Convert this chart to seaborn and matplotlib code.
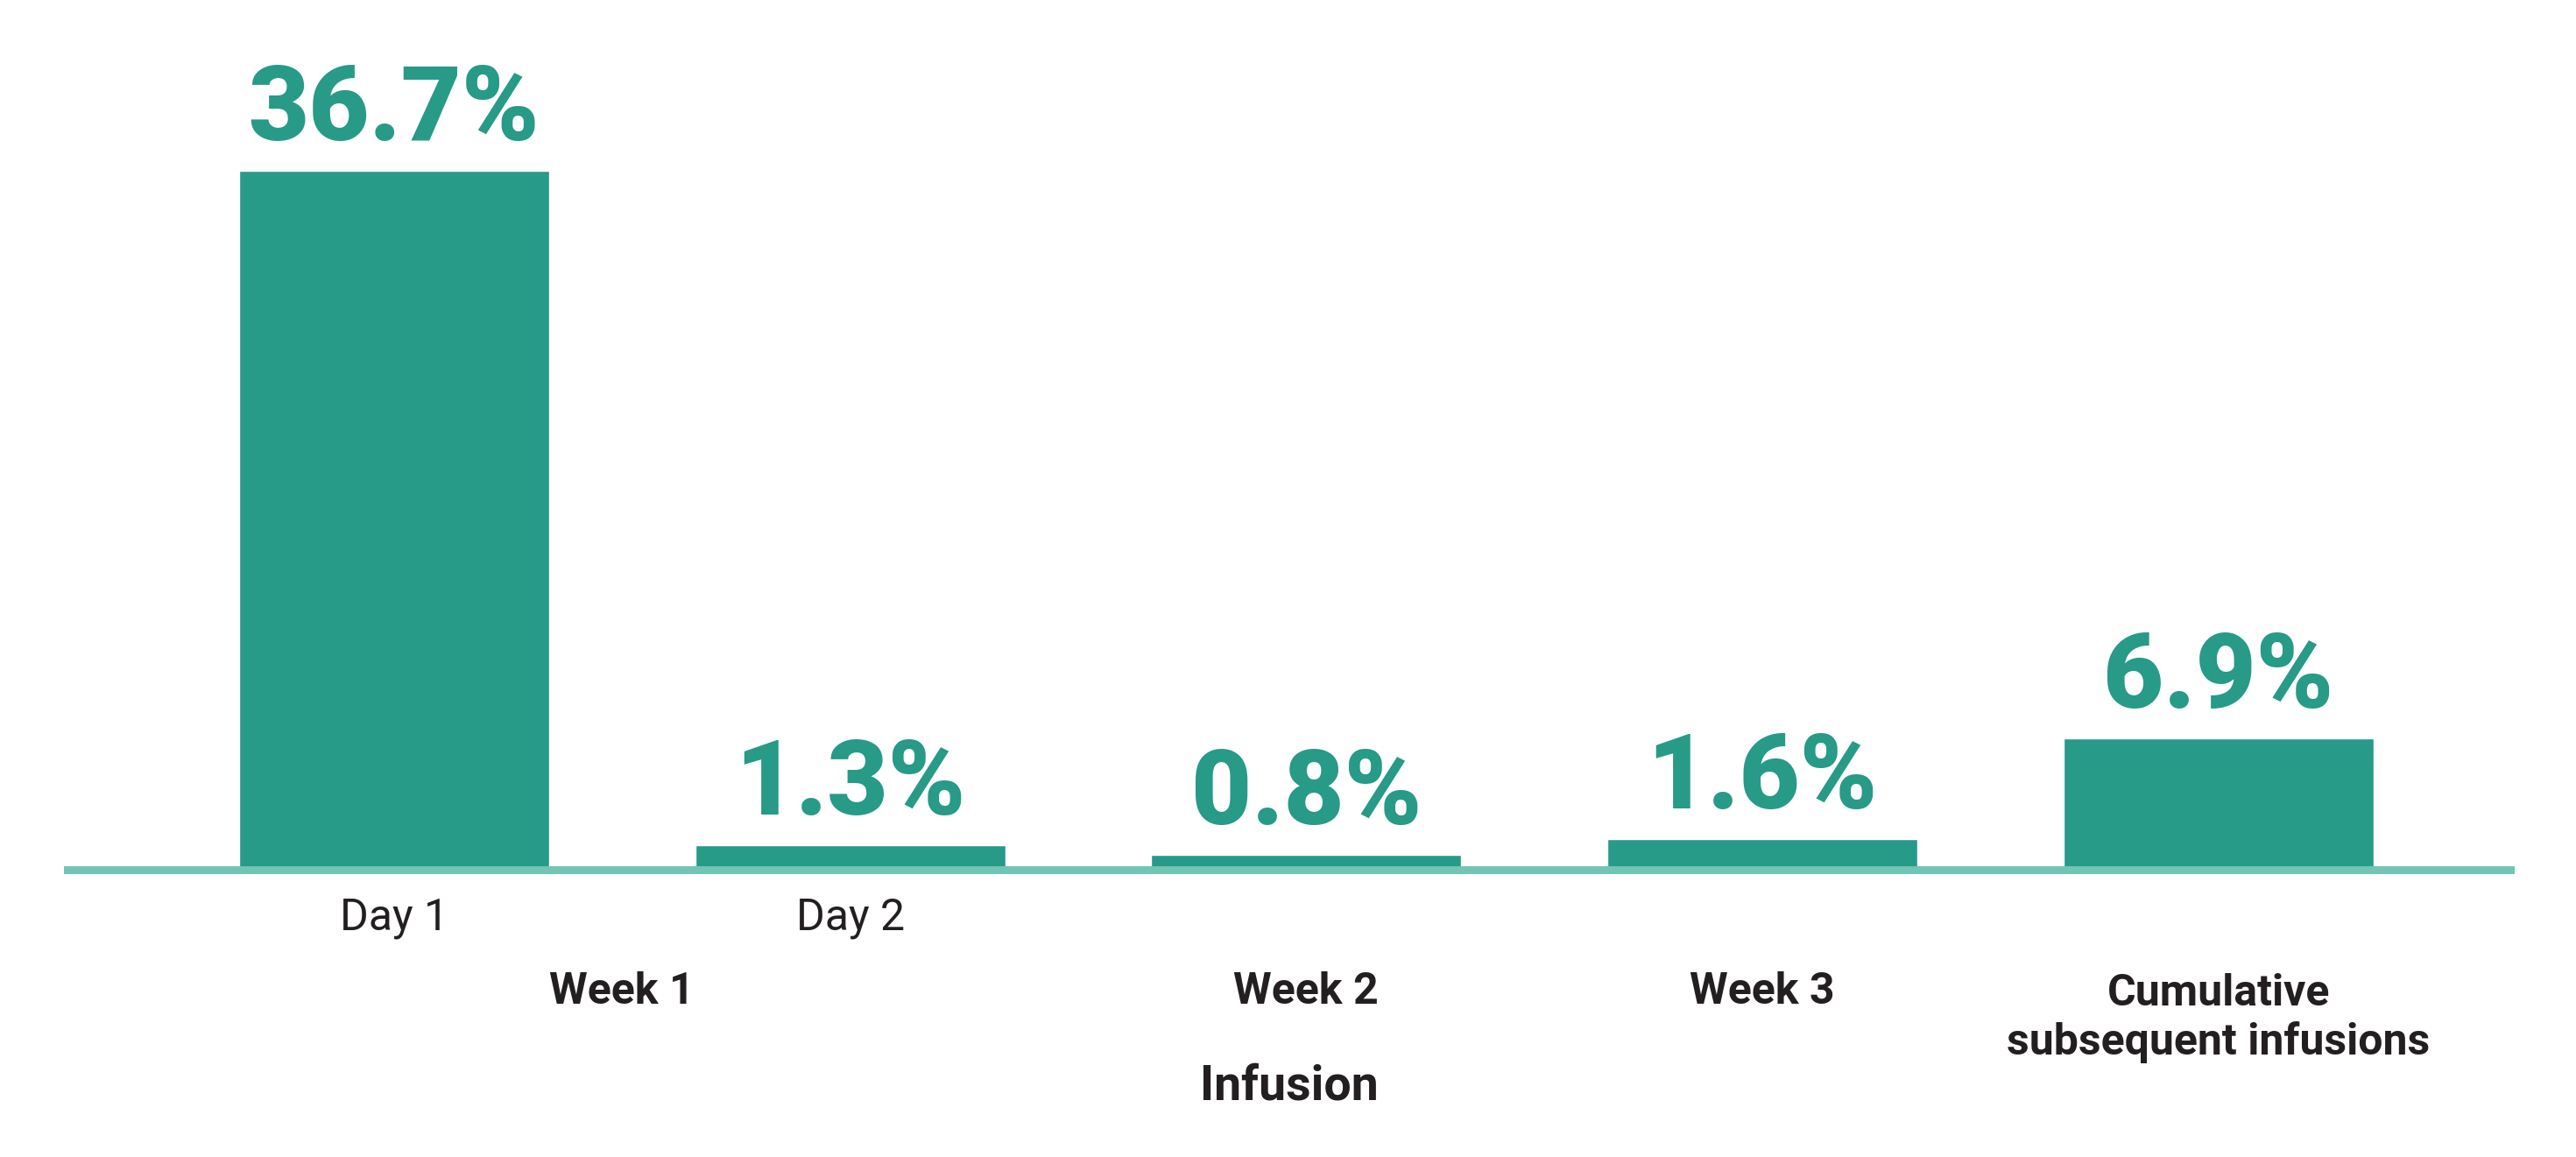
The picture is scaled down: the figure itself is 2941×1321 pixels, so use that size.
import matplotlib
matplotlib.use("Agg")
import matplotlib.pyplot as plt
import matplotlib.transforms as mtransforms
import seaborn as sns
import pandas as pd

# ---- data ----
categories = ["Day 1", "Day 2", "Week 2", "Week 3", "Cumulative subsequent infusions"]
values = [36.7, 1.3, 0.8, 1.6, 6.9]
value_labels = ["36.7%", "1.3%", "0.8%", "1.6%", "6.9%"]
tick_labels = ["Day 1", "Day 2", "", "", ""]
group_labels = ["Week 1", "Week 2", "Week 3", "Cumulative\nsubsequent infusions"]
group_centers = [0.5, 2, 3, 4]
axis_title = "Infusion"

BAR = "#279a88"
LINE = "#70c5b5"
TXT = "#231f20"

sns.set_theme(style="white")
plt.rcParams["font.family"] = ["Roboto", "DejaVu Sans"]

W, H, DPI = 2941, 1321, 100
fig = plt.figure(figsize=(W / DPI, H / DPI), dpi=DPI)
base_px = 993
ax = fig.add_axes([77 / W, (H - base_px) / H, (2866 - 77) / W, (base_px - 5) / H])

df = pd.DataFrame({"cat": categories, "val": values})
sns.barplot(data=df, x="cat", y="val", color=BAR, saturation=1, width=0.68,
            ax=ax, order=categories)

px_per_unit = (base_px - 195) / 36.7
ax.set_ylim(0, (base_px - 5) / px_per_unit)
ax.set_xlim(-0.716, 4.64)

for s in ["top", "left", "right"]:
    ax.spines[s].set_visible(False)
ax.spines["bottom"].set_color(LINE)
ax.spines["bottom"].set_linewidth(9 * 72 / DPI)
ax.spines["bottom"].set_zorder(3)
ax.set_yticks([])
ax.set_xticks(range(len(categories)))
ax.set_xticklabels(tick_labels, fontsize=36, color=TXT)
ax.tick_params(axis="x", length=0, pad=22)
ax.set_xlabel("")
ax.set_ylabel("")

# value labels
off = mtransforms.offset_copy(ax.transData, fig=fig, x=0, y=35, units="dots")
for i, (v, lab) in enumerate(zip(values, value_labels)):
    ax.text(i, v, lab, transform=off, ha="center", va="baseline",
            fontsize=86, fontweight="black", color=BAR)

# group labels (Week / Cumulative)
tr = mtransforms.blended_transform_factory(ax.transData, fig.transFigure)
for xc, lab in zip(group_centers, group_labels):
    nlines = lab.count("\n")
    ax.text(xc, (H - 1146 - 58 * nlines) / H, lab, transform=tr, ha="center",
            va="baseline", fontsize=36, fontweight="bold", color=TXT,
            linespacing=1.2)
# axis title
fig.text((77 + 2866) / 2 / W, (H - 1256) / H, axis_title, ha="center",
         va="baseline", fontsize=40, fontweight="bold", color=TXT)

fig.savefig("out.png", dpi=DPI, facecolor="white")
